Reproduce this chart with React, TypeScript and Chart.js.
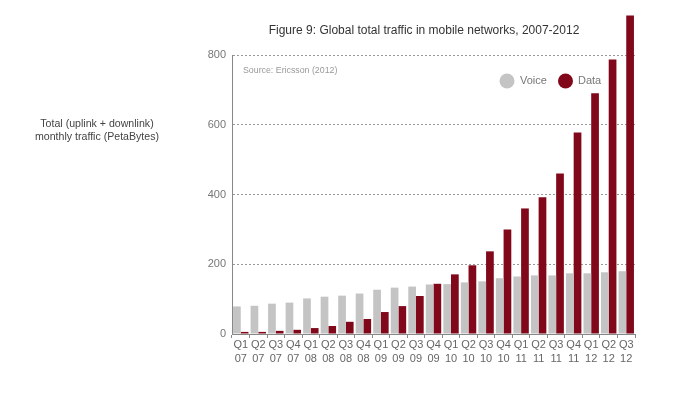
import React, { useEffect, useRef } from "react";
import { Chart, registerables } from "chart.js";

Chart.register(...registerables);

const quarters = ["Q1","Q2","Q3","Q4","Q1","Q2","Q3","Q4","Q1","Q2","Q3","Q4","Q1","Q2","Q3","Q4","Q1","Q2","Q3","Q4","Q1","Q2","Q3"];
const years = ["07","07","07","07","08","08","08","08","09","09","09","09","10","10","10","10","11","11","11","11","12","12","12"];
const voice = [79,81,87,90,102,107,110,116,127,133,136,142,143,148,151,160,165,168,168,174,174,177,180];
const dataTraffic = [6,6,9,12,17,23,35,43,63,80,109,144,171,197,237,300,360,392,460,578,690,787,913];
const yTicks = [0,200,400,600,800];

const TITLE = "Figure 9: Global total traffic in mobile networks, 2007-2012";
const SOURCE = "Source: Ericsson (2012)";
const Y_TITLE = ["Total (uplink + downlink)", "monthly traffic (PetaBytes)"];
const SERIES = ["Voice", "Data"];
const COLORS = ["#c4c4c4", "#80081a"];
const FONT = '"Liberation Sans", Arial, Helvetica, sans-serif';

const overlay = {
  id: "overlay",
  afterDraw(chart: any) {
    const ctx = chart.ctx;
    ctx.save();
    ctx.textBaseline = "middle";
    // title
    ctx.fillStyle = "#333";
    ctx.font = `12px ${FONT}`;
    ctx.textAlign = "center";
    ctx.fillText(TITLE, 424, 31);
    // y title
    ctx.fillStyle = "#444";
    ctx.font = `10.6px ${FONT}`;
    ctx.fillText(Y_TITLE[0], 97, 124);
    ctx.fillText(Y_TITLE[1], 97, 137);
    // source
    ctx.textAlign = "left";
    ctx.fillStyle = "#999";
    ctx.font = `8.8px ${FONT}`;
    ctx.fillText(SOURCE, 243, 71);
    // legend
    ctx.font = `11px ${FONT}`;
    const items = [
      { x: 507, tx: 520 },
      { x: 565.5, tx: 578 },
    ];
    items.forEach((it, i) => {
      ctx.fillStyle = COLORS[i];
      ctx.beginPath();
      ctx.arc(it.x, 81, 7.5, 0, Math.PI * 2);
      ctx.fill();
      ctx.fillStyle = "#777";
      ctx.fillText(SERIES[i], it.tx, 81);
    });
    ctx.restore();
  },
};

export default function App() {
  const ref = useRef<HTMLCanvasElement | null>(null);
  useEffect(() => {
    document.body.style.margin = "0";
    Chart.defaults.font.family = FONT;
    const labels = quarters.map((q, i) => [q, years[i]]);
    const chart = new Chart(ref.current as HTMLCanvasElement, {
      type: "bar",
      data: {
        labels,
        datasets: [
          { label: SERIES[0], data: voice, backgroundColor: COLORS[0], clip: false as any },
          { label: SERIES[1], data: dataTraffic, backgroundColor: COLORS[1], clip: false as any },
        ],
      },
      options: {
        responsive: false,
        animation: false,
        layout: { padding: { top: 55, right: 65, left: 0, bottom: 0 } },
        plugins: {
          legend: { display: false },
          tooltip: { enabled: false },
          title: { display: false },
        },
        datasets: { bar: { categoryPercentage: 0.88, barPercentage: 1 } },
        scales: {
          x: {
            offset: true,
            grid: { drawOnChartArea: false, drawTicks: true, tickLength: 4, color: "#888", offset: true },
            border: { color: "#888" },
            ticks: {
              color: "#666",
              font: { size: 11, lineHeight: 1.25 },
              padding: 0,
              maxRotation: 0,
              autoSkip: false,
            },
            afterFit: (s: any) => { s.height = 59; },
          },
          y: {
            min: 0,
            max: 800,
            afterBuildTicks: (s: any) => { s.ticks = yTicks.map((v) => ({ value: v })); },
            ticks: { color: "#777", font: { size: 11 }, padding: 6 },
            grid: {
              drawTicks: false,
              color: (c: any) => (c.tick && c.tick.value === 0 ? "rgba(0,0,0,0)" : "#999"),
            },
            border: { color: "#888", dash: [2, 2] },
            afterFit: (s: any) => { s.width = 232; },
          },
        },
      },
      plugins: [overlay],
    });
    return () => chart.destroy();
  }, []);
  return (
    <div style={{ width: 700, height: 393, background: "#fff" }}>
      <canvas ref={ref} width={700} height={393} />
    </div>
  );
}
